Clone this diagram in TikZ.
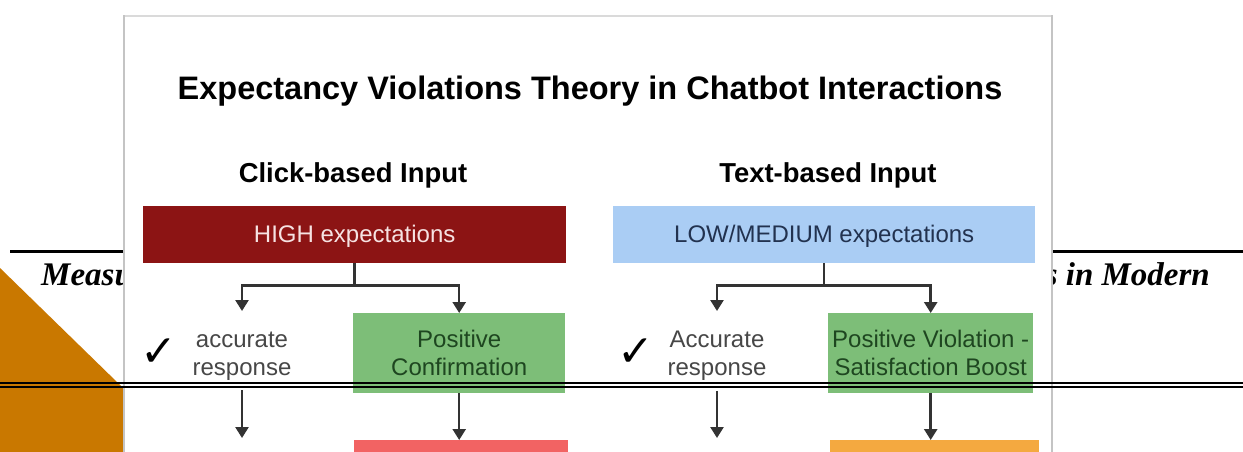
\documentclass[tikz,border=0pt]{standalone}
\usepackage{fontspec}
\setmainfont{Liberation Sans}
\newfontfamily\hdrfont{Liberation Serif}
\newfontfamily\symfont{DejaVu Sans}
\usetikzlibrary{arrows.meta}
\definecolor{orng}{HTML}{C97800}
\definecolor{cardedge}{HTML}{C4C4C4}
\definecolor{cardtop}{HTML}{DADADA}
\definecolor{hired}{HTML}{8C1414}
\definecolor{hitext}{HTML}{F6E2E2}
\definecolor{loblue}{HTML}{AACDF4}
\definecolor{lotext}{HTML}{22324F}
\definecolor{okgreen}{HTML}{7DBE78}
\definecolor{oktext}{HTML}{1E4620}
\definecolor{badred}{HTML}{F26363}
\definecolor{warnorange}{HTML}{F4A940}
\definecolor{linegrey}{HTML}{333333}
\definecolor{plaintext}{HTML}{474747}
\begin{document}
\begin{tikzpicture}[x=1pt,y=-1pt,
  box/.style={inner sep=0pt, anchor=north west, align=center, font=\fontsize{24}{28}\selectfont},
  plain/.style={inner sep=0pt, align=center, text=plaintext, font=\fontsize{24}{28}\selectfont},
  heading/.style={inner sep=0pt, anchor=base, font=\bfseries\fontsize{27.4}{28}\selectfont},
  hdr/.style={inner sep=0pt, font=\hdrfont\bfseries\itshape\fontsize{33}{33}\selectfont},
  checkmark/.style={inner sep=0pt, font=\symfont\fontsize{44}{44}\selectfont},
  conn/.style={draw=linegrey, line width=2.5pt},
  arr/.style={conn, -{Triangle[width=13pt,length=11pt]}}
]
\useasboundingbox (0,0) rectangle (1243,451);
\clip (0,0) rectangle (1243,451);
\fill[white] (0,0) rectangle (1243,451);
% page background
\fill[orng] (0,268) -- (316,576) -- (0,576) -- cycle;
\draw[line width=3pt] (10,251.5) -- (1243,251.5);
\node[hdr, anchor=base west] (hl) at (41,285) {Measu};
\node[hdr, anchor=base east] (hr) at (1210,285) {s in Modern};
% card
\fill[white] (124,16) rectangle (1052,480);
\draw[cardtop, line width=2pt] (124,16) -- (1052,16);
\draw[cardedge, line width=2.5pt] (124,15) -- (124,480);
\draw[cardedge, line width=2.5pt] (1052,15) -- (1052,480);
% title and headings
\node[inner sep=0pt, anchor=base, font=\bfseries\fontsize{32.5}{33}\selectfont] (title) at (590,99) {Expectancy Violations Theory in Chatbot Interactions};
\node[heading] (h1) at (353,182) {Click-based Input};
\node[heading] (h2) at (828,182) {Text-based Input};
% left column
\node[box, fill=hired, text=hitext, minimum width=423pt, minimum height=57pt, text depth=2pt] (high) at (143,206) {HIGH expectations};
\node[box, fill=okgreen, text=oktext, minimum width=212pt, minimum height=80pt] (g1) at (353,313) {Positive\\Confirmation};
\node[plain] (acc1) at (242,356) {accurate\\response};
\node[checkmark] (ck1) at (159,353) {✓};
\node[box, fill=badred, minimum width=214pt, minimum height=40pt] (red) at (354,440) {};
% right column
\node[box, fill=loblue, text=lotext, minimum width=422pt, minimum height=57pt, text depth=2pt] (low) at (613,206) {LOW/MEDIUM expectations};
\node[box, fill=okgreen, text=oktext, minimum width=205pt, minimum height=80pt] (g2) at (828,313) {Positive Violation -\\Satisfaction Boost};
\node[plain] (acc2) at (717,356) {Accurate\\response};
\node[checkmark] (ck2) at (636,353) {✓};
\node[box, fill=warnorange, minimum width=209pt, minimum height=40pt] (orange) at (830,440) {};
% connectors
\coordinate (t1) at (242,311);
\coordinate (t2) at (717,311);
\draw[conn] (high.south) -- ++(0,22) coordinate (j1);
\draw[arr] (j1) -| (t1);
\draw[arr] (j1) -| (g1.north);
\draw[conn] (low.south) -- ++(0,22) coordinate (j2);
\draw[arr] (j2) -| (t2);
\draw[arr] (j2) -| (g2.north);
\draw[arr, shorten <=10pt, shorten >=2pt] (acc1.south) -- (acc1.south |- red.north);
\draw[arr] (g1.south) -- (g1.south |- red.north);
\draw[arr, shorten <=10pt, shorten >=2pt] (acc2.south) -- (acc2.south |- orange.north);
\draw[arr] (g2.south) -- (g2.south |- orange.north);
% page rules on top
\draw[line width=2.5pt] (0,383.2) -- (1243,383.2);
\draw[line width=1.8pt] (0,387) -- (1243,387);
\end{tikzpicture}
\end{document}
